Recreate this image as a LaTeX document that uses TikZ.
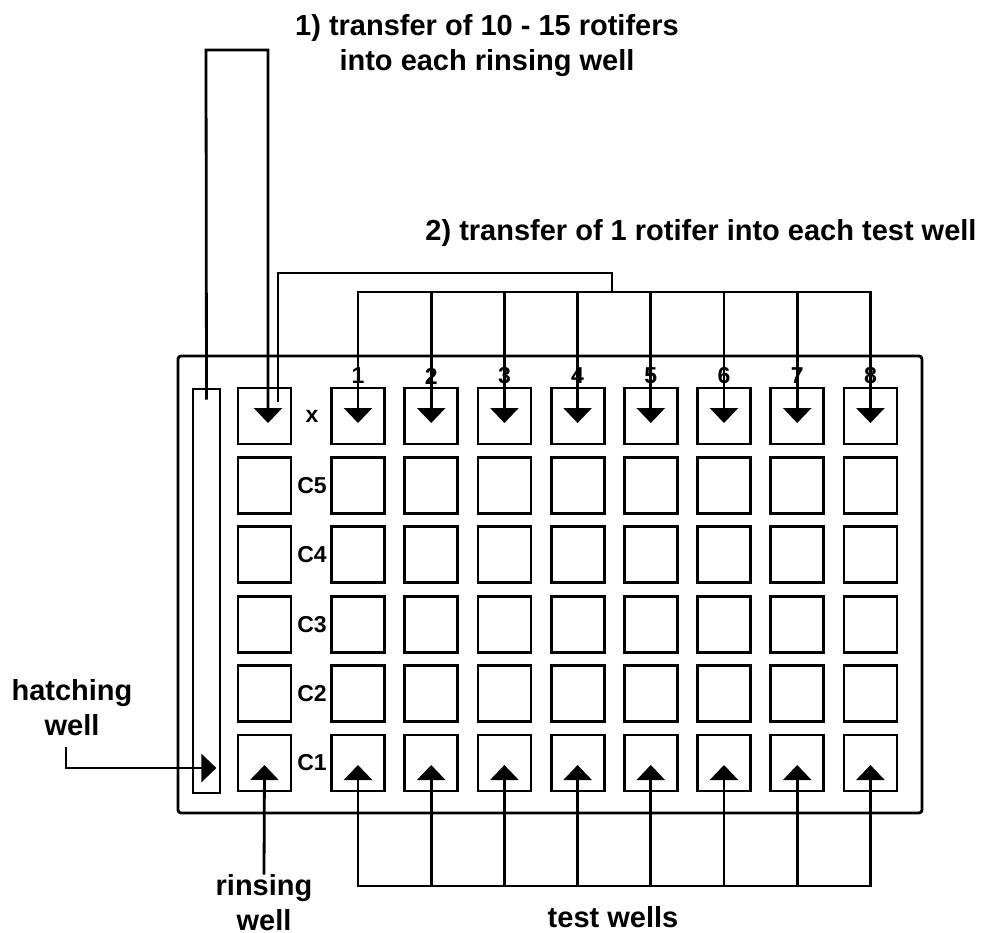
\documentclass[tikz,border=0pt]{standalone}
\usepackage{fontspec}
\setmainfont{Liberation Sans}
\usetikzlibrary{positioning,arrows.meta}

\begin{document}
\begin{tikzpicture}[x=1pt,y=-1pt,line width=2.8pt,>={Triangle[width=28pt,length=15pt]},
  well/.style={draw,minimum width=53pt,minimum height=56pt,inner sep=0pt},
  lbl/.style={font=\fontsize{29}{35}\selectfont\bfseries,align=center,inner sep=0pt},
  tag/.style={font=\fontsize{23}{23}\selectfont\bfseries,inner sep=1pt}]
\useasboundingbox (0,0) rectangle (985,932);

% plate and hatching well
\node[draw,rounded corners=3pt,minimum width=744pt,minimum height=457pt] (plate) at (550,584.5) {};
\node[draw,minimum width=27pt,minimum height=404pt,inner sep=0pt] (hatch) at (206.5,591) {};

% rinsing wells, test wells and row tags
\foreach \r/\name in {0/x,1/C5,2/C4,3/C3,4/C2,5/C1} {
  \node[well] (w-0-\r) at (264.5,416+\r*69.4) {};
  \foreach \c in {1,...,8}
    \node[well] (w-\c-\r) at (358+\c*73.2-73.2,416+\r*69.4) {};
  \node[tag] (row-\r) at (312,416+\r*69.4) {\name};
}

% step 1
\coordinate (up1) at (206,50);
\draw[->] ([yshift=-12pt]hatch.north) -- (up1) -| ([xshift=3.5pt,yshift=-7pt]w-0-0.center);
\node[lbl,anchor=base] (step1) at (487,70) {1) transfer of 10 - 15 rotifers\\into each rinsing well};

% step 2
\coordinate (up2) at (612,273);
\coordinate (bus) at (612,292);
\draw ([xshift=13.5pt,yshift=14pt]w-0-0.center) |- (up2) -- (bus);
\draw[line cap=rect] (w-1-0 |- bus) -- (w-8-0 |- bus);
\foreach \c in {1,...,8}
  \draw[->] (w-\c-0 |- bus) -- ([yshift=-7pt]w-\c-0.center);
\foreach \c in {1,...,8}
  \node[tag] (n-\c) at (w-\c-0 |- 0,376) {\c};
\node[lbl,anchor=base] (step2) at (701,240) {2) transfer of 1 rotifer into each test well};

% bottom labels
\node[lbl,anchor=base] (hatchlbl) at (72,735) {hatching\\well};
\draw[->] ([xshift=-6pt,yshift=-12pt]hatchlbl.base) |- ([xshift=-5pt]hatch.east |- 0,768);

\node[lbl,anchor=base] (rinselbl) at (264,930) {rinsing\\well};
\draw[->] ([yshift=-2pt]rinselbl.north) -- ([yshift=-2pt]w-0-5.center);

\coordinate (tb) at (613,886);
\draw[line cap=rect] (w-1-5 |- tb) -- (w-8-5 |- tb);
\foreach \c in {1,...,8}
  \draw[->] (w-\c-5 |- tb) -- ([yshift=-2pt]w-\c-5.center);
\node[lbl,anchor=base] (testlbl) at (tb |- 0,927) {test wells};
\end{tikzpicture}
\end{document}
